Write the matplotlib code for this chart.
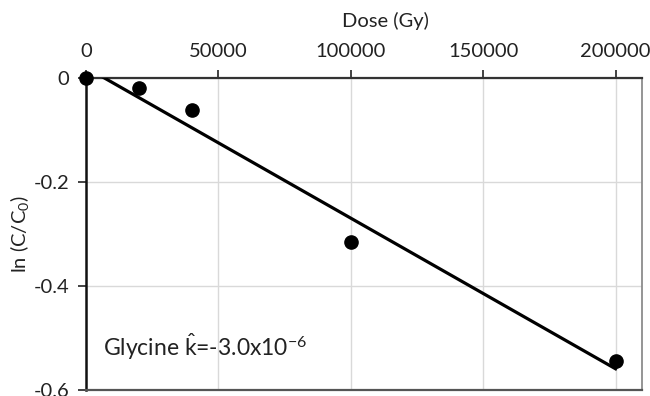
import numpy as np
import matplotlib
matplotlib.use('Agg')
import matplotlib.pyplot as plt

# Dose (Gy) and measured ln(C/C0) for glycine
dose = [0, 20000, 40000, 100000, 200000]
ln_ratio = [0.0, -0.020, -0.062, -0.315, -0.545]

x_ticks = [0, 50000, 100000, 150000, 200000]
y_ticks = [0, -0.2, -0.4, -0.6]
y_tick_labels = ['0', '-0.2', '-0.4', '-0.6']

plt.rcParams['font.family'] = ['Lato', 'DejaVu Sans']
plt.rcParams['mathtext.fontset'] = 'custom'
plt.rcParams['mathtext.rm'] = 'Lato'
plt.rcParams['mathtext.it'] = 'Lato:italic'

fig = plt.figure(figsize=(6.5, 3.96), dpi=100)
ax = fig.add_axes([0.1323, 0.0152, 0.8554, 0.7878])

# linear fit through the points (trend line)
slope, intercept = np.polyfit(dose, ln_ratio, 1)
fit_x = np.array([0, dose[-1]])
ax.plot(fit_x, slope * fit_x + intercept, color='black', lw=2.3, zorder=3)
ax.plot(dose, ln_ratio, 'o', color='black', ms=9.5, zorder=4, clip_on=False)

ax.set_xlim(0, 210000)
ax.set_ylim(-0.6, 0)
ax.xaxis.set_ticks_position('top')
ax.set_xticks(x_ticks)
ax.set_xticklabels([str(v) for v in x_ticks])
ax.set_yticks(y_ticks)
ax.set_yticklabels(y_tick_labels)
ax.tick_params(axis='both', labelsize=14.5, colors='#222222', length=6, width=1.2)
ax.tick_params(axis='x', pad=7)
ax.tick_params(axis='y', pad=6)

ax.grid(True, color='#d9d9d9', lw=1)
ax.set_axisbelow(True)

ax.spines['left'].set_color('#111111')
ax.spines['left'].set_linewidth(1.8)
ax.spines['top'].set_color('#333333')
ax.spines['top'].set_linewidth(1.6)
ax.spines['right'].set_color('#8c8c8c')
ax.spines['right'].set_linewidth(1.3)
ax.spines['bottom'].set_color('#555555')
ax.spines['bottom'].set_linewidth(1.6)

fig.text(385 / 650, 1 - 21 / 396, 'Dose (Gy)', fontsize=14.5, ha='center', va='center',
         color='#222222')
ax.set_ylabel('ln (C/C$_0$)', fontsize=14.5, labelpad=2, color='#222222')

ax.text(0.03, 0.14, r'Glycine $\hat{\mathrm{k}}$=-3.0x10$^{-6}$', transform=ax.transAxes,
        fontsize=16.5, va='center', ha='left', color='#222222')

fig.savefig('out.png', dpi=100)
